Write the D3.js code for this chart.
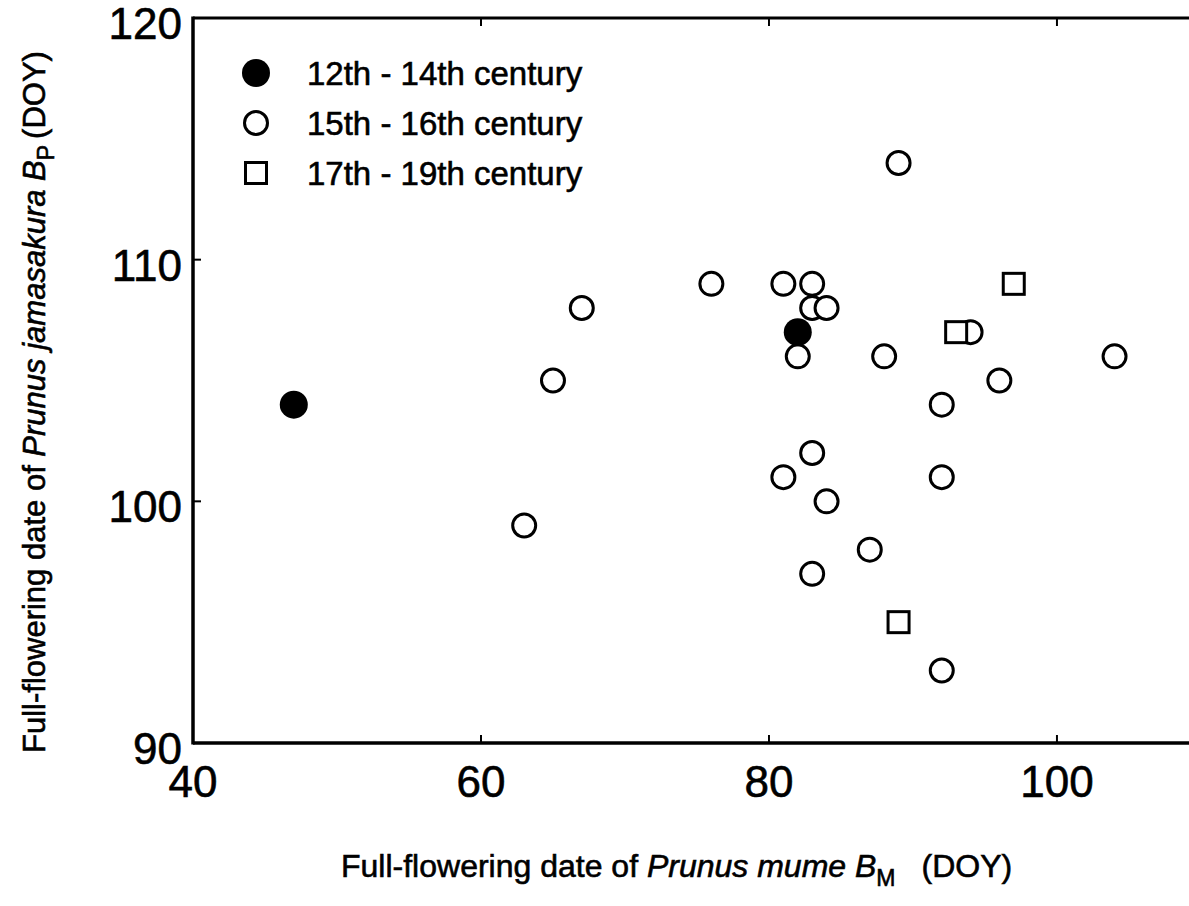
<!DOCTYPE html>
<html>
<head>
<meta charset="utf-8">
<script src="https://cdn.jsdelivr.net/npm/d3@7"></script>
<style>
  html, body { margin: 0; padding: 0; background: #fff; }
  svg { display: block; font-family: Arial, "Liberation Sans", Helvetica, sans-serif; }
  text { fill: #000; stroke: #000; stroke-width: 0.6; }
</style>
</head>
<body>
<script>
// data (DOY values)
const xTicks = [40, 60, 80, 100];
const yTicks = [90, 100, 110, 120];
const seriesNames = ['12th - 14th century', '15th - 16th century', '17th - 19th century'];

// 12th - 14th century (filled circles)
const bm12 = [47, 82];
const bp12 = [104, 107];

// 15th - 16th century (open circles)
const bm15 = [63, 65, 67, 76, 81, 83, 83, 84, 82, 88, 94, 89, 104, 96, 92, 83, 81, 92, 84, 87, 83, 92];
const bp15 = [99, 105, 108, 109, 109, 109, 108, 108, 106, 106, 107, 114, 106, 105, 104, 102, 101, 101, 100, 98, 97, 93];

// 17th - 19th century (open squares)
const bm17 = [93, 97, 89];
const bp17 = [107, 109, 95];

const W = 1189, H = 906;

let svg, g, x, y;

function build() {
  d3.select('body').selectAll('svg').remove();
  svg = d3.select('body').append('svg').attr('width', W).attr('height', H);

  const [x0, x1] = x.range();
  const [y0, y1] = y.range();

  // frame lines (right side is cut off in the figure)
  g = svg.append('g');
  g.append('line').attr('x1', x0).attr('x2', x0).attr('y1', y1 - 1.5).attr('y2', y0 + 1.5)
    .attr('stroke', '#000').attr('stroke-width', 3.5);
  g.append('line').attr('x1', x0).attr('x2', x1).attr('y1', y0).attr('y2', y0)
    .attr('stroke', '#000').attr('stroke-width', 3.5);
  g.append('line').attr('x1', x0).attr('x2', x1).attr('y1', y1).attr('y2', y1)
    .attr('stroke', '#000').attr('stroke-width', 3);

  // inward ticks
  const tickLen = 8;
  g.selectAll('.xt-b').data(xTicks.slice(1)).enter().append('line')
    .attr('x1', d => x(d)).attr('x2', d => x(d))
    .attr('y1', y0).attr('y2', y0 - tickLen)
    .attr('stroke', '#000').attr('stroke-width', 2);
  g.selectAll('.xt-t').data(xTicks.slice(1)).enter().append('line')
    .attr('x1', d => x(d)).attr('x2', d => x(d))
    .attr('y1', y1).attr('y2', y1 + tickLen)
    .attr('stroke', '#000').attr('stroke-width', 2);
  g.selectAll('.yt').data(yTicks.slice(1, -1)).enter().append('line')
    .attr('x1', x0).attr('x2', x0 + tickLen)
    .attr('y1', d => y(d)).attr('y2', d => y(d))
    .attr('stroke', '#000').attr('stroke-width', 2);

  // tick labels
  g.selectAll('.xl').data(xTicks).enter().append('text')
    .attr('x', d => x(d)).attr('y', y0 + 54)
    .attr('text-anchor', 'middle')
    .attr('font-size', 44)
    .text(d => d);
  g.selectAll('.yl').data(yTicks).enter().append('text')
    .attr('x', x0 - 11).attr('y', d => y(d) + 21)
    .attr('text-anchor', 'end')
    .attr('font-size', 44)
    .text(d => d);

  // axis titles
  const xt = svg.append('text')
    .attr('x', 341).attr('y', 877)
    .attr('font-size', 32);
  xt.append('tspan').text('Full-flowering date of ');
  xt.append('tspan').attr('font-style', 'italic').text(' Prunus mume B');
  xt.append('tspan').attr('font-size', 23).attr('dy', 9).text('M');
  xt.append('tspan').attr('dy', -9).attr('dx', 26).text('(DOY)');

  const yt = svg.append('text')
    .attr('transform', 'translate(45,753) rotate(-90)')
    .attr('font-size', 31);
  yt.append('tspan').text('Full-flowering date of ');
  yt.append('tspan').attr('font-style', 'italic').text('Prunus jamasakura B');
  yt.append('tspan').attr('font-size', 23).attr('dy', 9).text('P');
  yt.append('tspan').attr('dy', -9).attr('dx', 6).text('(DOY)');

  // points
  const pts = svg.append('g');
  pts.selectAll('.c15').data(d3.range(bm15.length)).enter().append('circle')
    .attr('cx', i => x(bm15[i])).attr('cy', i => y(bp15[i]))
    .attr('r', 11.5)
    .attr('fill', '#fff').attr('stroke', '#000').attr('stroke-width', 3);
  pts.selectAll('.c12').data(d3.range(bm12.length)).enter().append('circle')
    .attr('cx', i => x(bm12[i])).attr('cy', i => y(bp12[i]))
    .attr('r', 14)
    .attr('fill', '#000');
  const s = 21;
  pts.selectAll('.s17').data(d3.range(bm17.length)).enter().append('rect')
    .attr('x', i => x(bm17[i]) - s / 2).attr('y', i => y(bp17[i]) - s / 2)
    .attr('width', s).attr('height', s)
    .attr('fill', '#fff').attr('stroke', '#000').attr('stroke-width', 3);

  // legend
  const lg = svg.append('g').attr('transform', 'translate(256,73)');
  const row = 50;
  lg.append('circle').attr('cx', 0).attr('cy', 0).attr('r', 14).attr('fill', '#000');
  lg.append('circle').attr('cx', 0).attr('cy', row).attr('r', 11.5)
    .attr('fill', '#fff').attr('stroke', '#000').attr('stroke-width', 3);
  lg.append('rect').attr('x', -s / 2).attr('y', 2 * row - s / 2).attr('width', s).attr('height', s)
    .attr('fill', '#fff').attr('stroke', '#000').attr('stroke-width', 3);
  lg.selectAll('.lt').data(seriesNames).enter().append('text')
    .attr('x', 51).attr('y', (d, i) => i * row + 12)
    .attr('font-size', 33)
    .text(d => d);
}

function setup() {
  x = d3.scaleLinear().domain([40, 109.17]).range([193, W]);
  y = d3.scaleLinear().domain([90, 120]).range([743, 18]);
  build();
}

setup();
</script>
</body>
</html>
